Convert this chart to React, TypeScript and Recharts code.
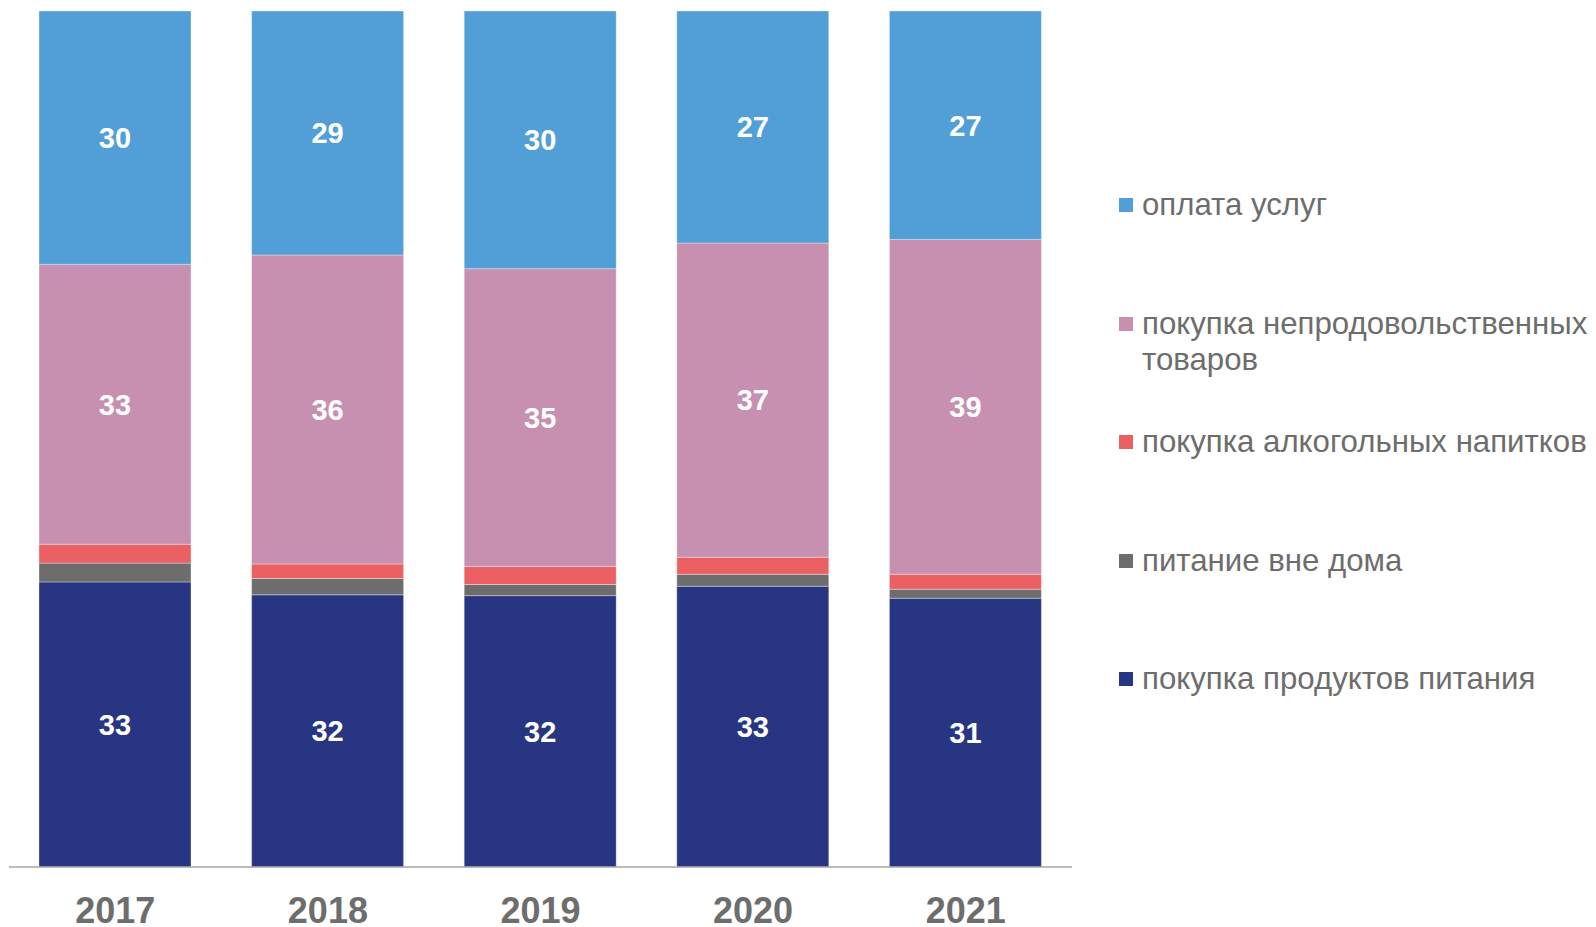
import React from 'react';
import { BarChart, Bar, XAxis, YAxis, LabelList } from 'recharts';

const years = ['2017', '2018', '2019', '2020', '2021'];
const food = [33.3, 31.8, 31.7, 32.8, 31.4];
const eatingOut = [2.2, 1.9, 1.3, 1.4, 1.05];
const alcohol = [2.2, 1.7, 2.1, 2.0, 1.75];
const nonFood = [32.7, 36.1, 34.8, 36.7, 39.1];
const services = [29.6, 28.5, 30.1, 27.1, 26.7];

const SERIES = [
    { key: 'food', name: 'покупка продуктов питания', color: '#283583', label: true },
    { key: 'eatingOut', name: 'питание вне дома', color: '#6d6d6d', label: false },
    { key: 'alcohol', name: 'покупка алкогольных напитков', color: '#eb6063', label: false },
    { key: 'nonFood', name: 'покупка непродовольственных товаров', color: '#c790b0', label: true },
    { key: 'services', name: 'оплата услуг', color: '#529fd7', label: true },
];

const data = years.map((year, i) => ({
    year,
    food: food[i],
    eatingOut: eatingOut[i],
    alcohol: alcohol[i],
    nonFood: nonFood[i],
    services: services[i],
}));

const FONT = '"Liberation Sans", Arial, sans-serif';

const YearTick = ({ x, y, payload }: any) => (
    <text x={x} y={y + 48} textAnchor="middle" fill="#6d6d6d" fontSize={36} fontWeight="bold" fontFamily={FONT}>
        {payload.value}
    </text>
);

// legend drawn next to the chart, newest series on top
const SideLegend = () => {
    const items = [...SERIES].reverse();
    return (
        <div style={{ position: 'absolute', left: 1119, top: 0, width: 477, height: 720, fontFamily: FONT }}>
            {items.map((s, i) => (
                <div key={s.key} style={{ position: 'absolute', left: 0, top: 187 + i * 118.5, display: 'flex', alignItems: 'flex-start' }}>
                    <div style={{ width: 14, height: 14, background: s.color, marginTop: 11, marginRight: 9, flexShrink: 0 }} />
                    <div style={{ color: '#6d6d6d', fontSize: 31.2, lineHeight: '36px', width: 460, whiteSpace: 'nowrap' }}>
                        {s.key === 'nonFood' ? <>покупка непродовольственных<br />товаров</> : s.name}
                    </div>
                </div>
            ))}
        </div>
    );
};

export default function App() {
    return (
        <div style={{ position: 'absolute', left: 0, top: 0, width: 1596, height: 927, background: '#fff', fontFamily: FONT }}>
            <BarChart width={1596} height={927} data={data} margin={{ top: 11, right: 524, left: 9, bottom: 0 }} barSize={152}>
                <XAxis
                    dataKey="year"
                    height={60}
                    axisLine={{ stroke: '#a6a6a6', strokeWidth: 1.5 }}
                    tickLine={false}
                    tick={<YearTick />}
                    interval={0}
                />
                <YAxis hide domain={[0, 100]} />
                {SERIES.map((s) => (
                    <Bar key={s.key} dataKey={s.key} name={s.name} stackId="a" fill={s.color} stroke="rgba(255,255,255,0.35)" strokeWidth={1} isAnimationActive={false}>
                        {s.label && (
                            <LabelList
                                dataKey={s.key}
                                position="center"
                                fill="#ffffff"
                                fontSize={29}
                                fontWeight="bold"
                                fontFamily={FONT}
                                formatter={(v: any) => Math.round(Number(v))}
                            />
                        )}
                    </Bar>
                ))}
            </BarChart>
            <SideLegend />
        </div>
    );
}
